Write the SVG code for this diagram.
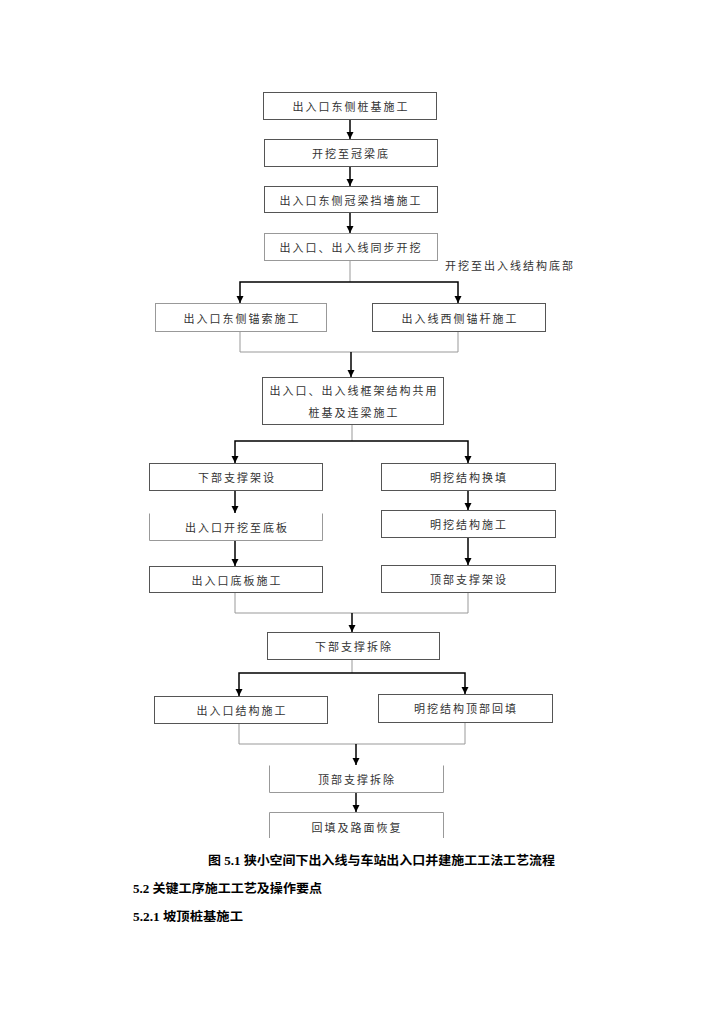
<svg xmlns="http://www.w3.org/2000/svg" width="724" height="1024" viewBox="0 0 724 1024">
<style>
.bx{fill:#fff;stroke:#555;stroke-width:1}
.lt{fill:none;stroke:#999;stroke-width:1}
.t{font-family:"Noto Sans CJK SC","Liberation Sans",sans-serif;font-size:11px;fill:#333;letter-spacing:2px;text-anchor:middle;dominant-baseline:central}
.ar{fill:none;stroke:#000;stroke-width:1.5}
.gl{fill:none;stroke:#999;stroke-width:1}
.cap{font-family:"Liberation Serif","Noto Sans CJK SC",serif;font-size:12.5px;font-weight:bold;fill:#000;dominant-baseline:central}
</style>
<defs>
<marker id="ah" markerUnits="userSpaceOnUse" markerWidth="8" markerHeight="8" refX="7" refY="4" orient="auto">
<path d="M0,0.5 L7,4 L0,7.5 z" fill="#000"/>
</marker>
</defs>
<rect width="724" height="1024" fill="#fff"/>
<g id="connectors">
<path class="ar" d="M350,119 V139" marker-end="url(#ah)"/>
<path class="ar" d="M350,166 V186" marker-end="url(#ah)"/>
<path class="ar" d="M350,212 V233" marker-end="url(#ah)"/>
<path class="gl" d="M350,260 V282"/>
<path class="ar" d="M350,282 H240 V303" marker-end="url(#ah)"/>
<path class="ar" d="M350,282 H458 V303" marker-end="url(#ah)"/>
<path class="gl" d="M240,331 V352 H458 V331"/>
<path class="ar" d="M351,352 V377" marker-end="url(#ah)"/>
<path class="gl" d="M352,424 V441"/>
<path class="ar" d="M352,441 H235 V463" marker-end="url(#ah)"/>
<path class="ar" d="M352,441 H468 V463" marker-end="url(#ah)"/>
<path class="ar" d="M235,490 V513" marker-end="url(#ah)"/>
<path class="ar" d="M235,540 V566" marker-end="url(#ah)"/>
<path class="ar" d="M468,490 V510" marker-end="url(#ah)"/>
<path class="ar" d="M468,537 V565" marker-end="url(#ah)"/>
<path class="gl" d="M235,592 V613 H468 V592"/>
<path class="ar" d="M352,613 V632" marker-end="url(#ah)"/>
<path class="gl" d="M352,659 V673"/>
<path class="ar" d="M352,673 H239 V696" marker-end="url(#ah)"/>
<path class="ar" d="M352,673 H465 V694" marker-end="url(#ah)"/>
<path class="gl" d="M239,723 V744 H465 V722"/>
<path class="ar" d="M356,744 V765" marker-end="url(#ah)"/>
<path class="ar" d="M356,792 V812" marker-end="url(#ah)"/>
</g>
<g id="n1"><rect class="bx" x="263.5" y="92.5" width="173" height="27"/><text class="t" x="351" y="106">出入口东侧桩基施工</text></g>
<g id="n2"><rect class="bx" x="264.5" y="139.5" width="173" height="27"/><text class="t" x="351" y="153">开挖至冠梁底</text></g>
<g id="n3"><rect class="bx" x="264.5" y="186.5" width="173" height="26"/><text class="t" x="351" y="200">出入口东侧冠梁挡墙施工</text></g>
<g id="n4"><rect class="lt" x="264.5" y="233.5" width="173" height="27"/><text class="t" x="351" y="247">出入口、出入线同步开挖</text></g>
<g id="lbl"><text class="t" x="510" y="265">开挖至出入线结构底部</text></g>
<g id="n5"><rect class="lt" x="155.5" y="303.5" width="171" height="28"/><text class="t" x="242" y="318">出入口东侧锚索施工</text></g>
<g id="n6"><rect class="bx" x="372.5" y="303.5" width="173" height="28"/><text class="t" x="460" y="318">出入线西侧锚杆施工</text></g>
<g id="n7"><rect class="bx" x="262.5" y="377.5" width="181" height="47"/><text class="t" x="354" y="390">出入口、出入线框架结构共用</text><text class="t" x="354" y="412">桩基及连梁施工</text></g>
<g id="n8"><rect class="bx" x="149.5" y="463.5" width="173" height="27"/><text class="t" x="237" y="477">下部支撑架设</text></g>
<g id="n9"><path class="lt" d="M149.5,513.5 V540.5 H322.5 V513.5"/><text class="t" x="237" y="527">出入口开挖至底板</text></g>
<g id="n10"><rect class="bx" x="149.5" y="566.5" width="173" height="26"/><text class="t" x="237" y="580">出入口底板施工</text></g>
<g id="n11"><rect class="bx" x="381.5" y="463.5" width="174" height="27"/><text class="t" x="469" y="477">明挖结构换填</text></g>
<g id="n12"><rect class="bx" x="381.5" y="510.5" width="174" height="27"/><text class="t" x="469" y="524">明挖结构施工</text></g>
<g id="n13"><rect class="bx" x="381.5" y="565.5" width="174" height="27"/><text class="t" x="469" y="579">顶部支撑架设</text></g>
<g id="n14"><rect class="bx" x="267.5" y="632.5" width="172" height="27"/><text class="t" x="354" y="646">下部支撑拆除</text></g>
<g id="n15"><rect class="bx" x="154.5" y="696.5" width="173" height="27"/><text class="t" x="242" y="710">出入口结构施工</text></g>
<g id="n16"><rect class="bx" x="378.5" y="694.5" width="174" height="28"/><text class="t" x="466" y="708">明挖结构顶部回填</text></g>
<g id="n17"><path class="lt" d="M269.5,765.5 V792.5 H443.5 V765.5"/><text class="t" x="357" y="779">顶部支撑拆除</text></g>
<g id="n18"><path class="lt" d="M269.5,838 V812.5 H443.5 V838"/><text class="t" x="357" y="827">回填及路面恢复</text></g>
<g id="caption">
<text class="cap" x="208" y="861" textLength="347" lengthAdjust="spacingAndGlyphs">图 5.1 狭小空间下出入线与车站出入口并建施工工法工艺流程</text>
<text class="cap" x="133" y="889" textLength="189" lengthAdjust="spacingAndGlyphs">5.2 关键工序施工工艺及操作要点</text>
<text class="cap" x="133" y="917" textLength="110" lengthAdjust="spacingAndGlyphs">5.2.1 坡顶桩基施工</text>
</g>
</svg>
